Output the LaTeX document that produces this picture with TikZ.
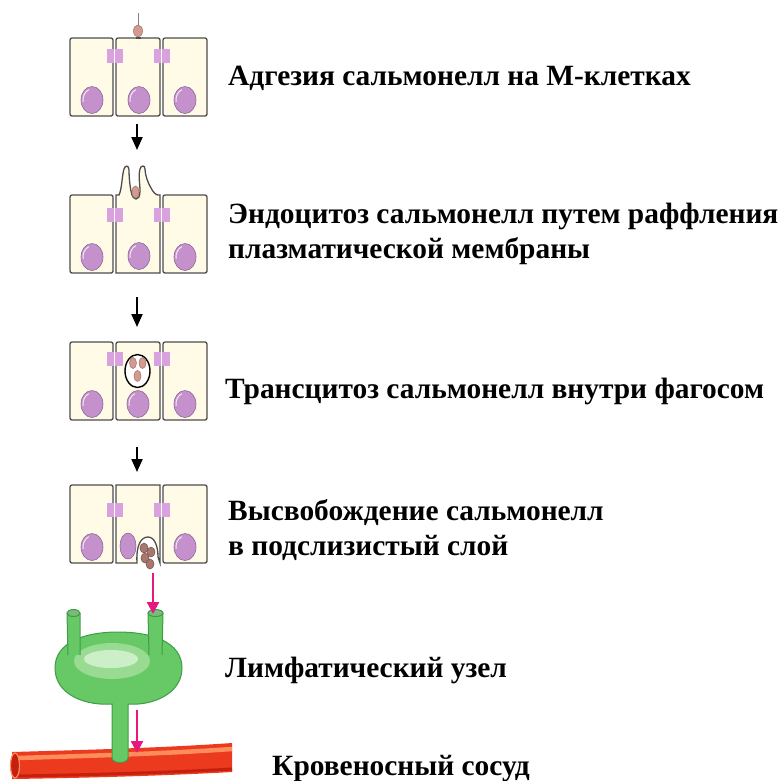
\documentclass[tikz,border=0pt]{standalone}
\usepackage{fontspec}
\setmainfont{Liberation Serif}
\usetikzlibrary{arrows.meta,positioning}

\definecolor{cellFill}{HTML}{FFFBE6}
\definecolor{cellLine}{HTML}{4D4D4D}
\definecolor{nucFill}{HTML}{C491CC}
\definecolor{nucLine}{HTML}{8C6898}
\definecolor{junctPink}{HTML}{D9A2DE}
\definecolor{bactPink}{HTML}{D39A90}
\definecolor{bactBrown}{HTML}{A9776E}
\definecolor{flowPink}{HTML}{E8177F}
\definecolor{lymphGreen}{HTML}{67C866}
\definecolor{lymphDark}{HTML}{3F9C45}
\definecolor{lymphLight}{HTML}{9ADB94}
\definecolor{lymphPale}{HTML}{CDEFC8}
\definecolor{vesselRed}{HTML}{EC3A1E}
\definecolor{vesselDark}{HTML}{C5200F}
\definecolor{vesselHi}{HTML}{FF8C5C}

\tikzset{
  cell/.style={draw=cellLine,fill=cellFill,line width=1.3pt,rounded corners=2pt},
  nuc/.style={draw=nucLine,fill=nucFill,line width=.6pt},
  nucHi/.style={draw=white,line width=1pt,opacity=.8},
  junct/.style={fill=junctPink},
  bact/.style={draw=bactBrown,fill=bactPink,line width=.6pt},
  bactDark/.style={draw=bactBrown!70!black,fill=bactBrown,line width=.5pt},
  phago/.style={draw=black,fill=white,line width=1.4pt},
  stepArrow/.style={line width=2pt,-{Triangle[width=11pt,length=13pt]}},
  flowArrow/.style={draw=flowPink,line width=2.2pt,-{Triangle[width=12pt,length=12pt]}},
  lymph/.style={draw=lymphDark,fill=lymphGreen,line width=1pt},
  steptext/.style={anchor=base west,inner sep=0pt,align=left}
}

\newcommand\nucleus[1]{%
  \filldraw[nuc] (#1) ellipse[x radius=11,y radius=13.5];
  \draw[nucHi] (#1) ++(-8.9,1.9) arc[start angle=170,end angle=250,x radius=9,y radius=11];}
\newcommand\sidecells{%
  \draw[cell] (0,0) rectangle (43,78);
  \draw[cell] (93,0) rectangle (137,78);
  \nucleus{22,62}
  \nucleus{115,62}}
\newcommand\junctions[1]{%
  \foreach \jx in {37,84} {
    \fill[junct] (\jx,#1) rectangle ++(16,14);
    \draw[white,line width=1.2pt] (\jx+7.5,#1) -- ++(0,14);}}

\begin{document}
\begin{tikzpicture}[x=1pt,y=-1pt,font=\fontsize{29.4}{35}\selectfont\bfseries]
  \useasboundingbox (0,0) rectangle (783,780);

  % adhesion to the M cell
  \begin{scope}[shift={(70,38)}]
    \sidecells
    \draw[cell] (46,0) rectangle (90,78);
    \nucleus{69,62}
    \junctions{11}
    \draw[cellLine!70,line width=1pt] (68,-25) -- (68,-12);
    \filldraw[bact] (68,-7) ellipse[x radius=4.5,y radius=6];
    \fill[cellLine] (65.5,-1.5) rectangle (70.5,1);
    \coordinate (r1out) at (67,86);
  \end{scope}

  % membrane ruffling
  \begin{scope}[shift={(70,195)}]
    \sidecells
    \filldraw[cell,sharp corners] (46,78) -- (46,0) -- (49,0)
      .. controls (52,-6) and (52,-20) .. (54,-26)
      .. controls (55,-30) and (59,-30) .. (59,-25)
      .. controls (59,-18) and (60,-8) .. (61,-4)
      .. controls (62,2) and (64,4) .. (66,4)
      .. controls (68,4) and (70,2) .. (70,-4)
      .. controls (70,-12) and (68,-20) .. (70,-26)
      .. controls (71,-30) and (75,-30) .. (75,-26)
      .. controls (75,-20) and (78,-12) .. (81,-7)
      .. controls (83,-3) and (86,0) .. (88,0)
      -- (90,0) -- (90,78) -- cycle;
    \nucleus{69,61}
    \junctions{13}
    \filldraw[bact] (65.5,-3) ellipse[x radius=3.5,y radius=6];
    \coordinate (r2in) at (67,-45);
    \coordinate (r2out) at (67,102);
  \end{scope}

  % phagosome crossing the cell
  \begin{scope}[shift={(70,342)}]
    \sidecells
    \draw[cell] (46,0) rectangle (90,78);
    \nucleus{68,62}
    \junctions{10}
    \filldraw[phago] (67.5,29) ellipse[x radius=12.5,y radius=16.5];
    \filldraw[bact] (63,21) ellipse[x radius=3.5,y radius=5.5];
    \filldraw[bact] (72.5,21) ellipse[x radius=3.5,y radius=5.5];
    \filldraw[bact] (67.5,34) ellipse[x radius=3.5,y radius=5.5];
    \coordinate (r3in) at (67,-15);
    \coordinate (r3out) at (67,105);
  \end{scope}

  % release at the basal side
  \begin{scope}[shift={(70,485)}]
    \sidecells
    \filldraw[cell,sharp corners] (46,0) -- (46,78) -- (67,78)
      .. controls (66,60) and (71,52) .. (78,52)
      .. controls (85,52) and (88,62) .. (88,72)
      -- (90,78) -- (90,0) -- cycle;
    \filldraw[nuc] (58,61) ellipse[x radius=8,y radius=13];
    \junctions{18}
    \filldraw[bactDark] (74,63) ellipse[x radius=4,y radius=5];
    \filldraw[bactDark] (81,67) ellipse[x radius=4,y radius=5];
    \filldraw[bactDark] (75,73) ellipse[x radius=4,y radius=5];
    \filldraw[bactDark] (80,79) ellipse[x radius=4,y radius=5];
    \coordinate (r4in) at (67,-13);
    \coordinate (r4out) at (83,88);
  \end{scope}

  % blood vessel
  \fill[vesselRed] (12,752) .. controls (80,750) and (160,748) .. (232,743)
    -- (232,772) .. controls (160,776) and (80,778) .. (12,779) -- cycle;
  \draw[vesselHi,line width=4.5pt] (18,758) .. controls (80,756) and (160,754) .. (232,749);
  \draw[vesselDark,line width=3pt] (16,776) .. controls (80,775) and (160,773) .. (232,769);
  \filldraw[fill=vesselDark,draw=vesselHi,line width=1.2pt] (15,765.5) ellipse[x radius=4.5,y radius=12.5];

  % lymph node with its vessels
  \filldraw[lymph] (112,704) .. controls (88,706) and (55,696) .. (55,668)
    .. controls (55,642) and (85,632) .. (118,632)
    .. controls (152,632) and (182,642) .. (182,668)
    .. controls (182,695) and (150,706) .. (128,704)
    -- (128,758) .. controls (128,764) and (112,764) .. (112,758) -- cycle;
  \fill[lymphLight] (112,661) ellipse[x radius=38,y radius=18];
  \fill[lymphPale] (111,659) ellipse[x radius=27,y radius=9];
  \fill[lymphGreen] (67,613) rectangle (80,655);
  \draw[lymphDark,line width=1pt] (67,613) -- (68,655) (80,613) -- (80,655);
  \filldraw[lymph,fill=lymphDark!70] (73.5,613) ellipse[x radius=6.5,y radius=3.5];
  \fill[lymphGreen] (148,613) rectangle (163,655);
  \draw[lymphDark,line width=1pt] (148,613) -- (149,655) (163,613) -- (162,655);
  \filldraw[lymph,fill=lymphDark!70] (155.5,613) ellipse[x radius=7.5,y radius=3.5];
  \coordinate (lnIn) at (153,614);
  \coordinate (lnOut) at (137,710);
  \coordinate (bvIn) at (137,753);

  \draw[stepArrow] (r1out) -- (r2in);
  \draw[stepArrow] (r2out) -- (r3in);
  \draw[stepArrow] (r3out) -- (r4in);
  \draw[flowArrow] (r4out) -- (lnIn);
  \draw[flowArrow] (lnOut) -- (bvIn);

  \node[steptext] (adh) at (228,85) {Адгезия сальмонелл на М-клетках};
  \node[steptext] (endo) at (228,258) {Эндоцитоз сальмонелл путем раффления\\плазматической мембраны};
  \node[steptext] (trans) at (225,398) {Трансцитоз сальмонелл внутри фагосом};
  \node[steptext] (rel) at (228,555) {Высвобождение сальмонелл\\в подслизистый слой};
  \node[steptext] (lymphn) at (225,677) {Лимфатический узел};
  \node[steptext] (blood) at (272,775) {Кровеносный сосуд};
\end{tikzpicture}
\end{document}
